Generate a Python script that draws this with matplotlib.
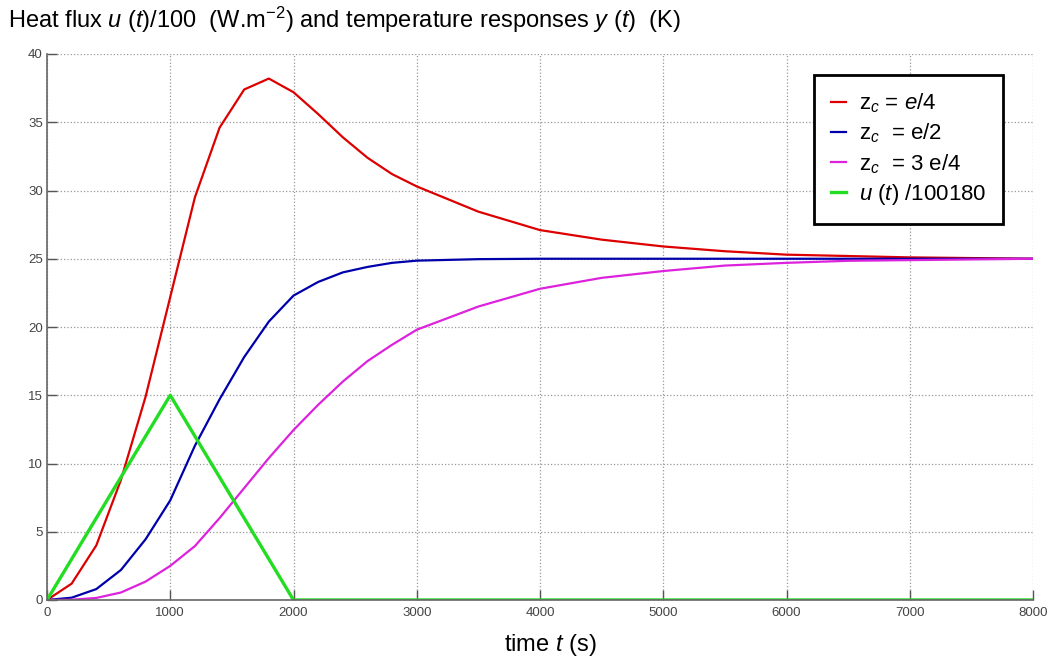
import matplotlib
matplotlib.use("Agg")
import matplotlib.pyplot as plt

plt.rcParams["font.family"] = ["Liberation Sans", "DejaVu Sans"]
plt.rcParams["mathtext.fontset"] = "custom"
plt.rcParams["mathtext.rm"] = "Liberation Sans"
plt.rcParams["mathtext.it"] = "Liberation Sans:italic"
plt.rcParams["mathtext.bf"] = "Liberation Sans:bold"

# Time samples (s)
t_fine = [0, 200, 400, 600, 800, 1000, 1200, 1400, 1600, 1800, 2000,
          2200, 2400, 2600, 2800, 3000, 3500, 4000, 4500, 5000, 5500,
          6000, 6500, 7000, 7500, 8000]

# Temperature responses y(t) (K) at three depths
y_quarter = [0, 1.2, 4.0, 8.8, 14.9, 22.2, 29.5, 34.6, 37.4, 38.2, 37.2,
             35.6, 33.9, 32.4, 31.2, 30.3, 28.45, 27.1, 26.4, 25.9, 25.55,
             25.3, 25.2, 25.1, 25.05, 25.0]
y_half = [0, 0.17, 0.8, 2.2, 4.45, 7.3, 11.3, 14.7, 17.8, 20.4, 22.3,
          23.3, 24.0, 24.4, 24.7, 24.86, 24.97, 25.0, 25.0, 25.0, 25.0,
          25.0, 25.0, 25.0, 25.0, 25.0]
y_three_quarter = [0, 0.02, 0.15, 0.55, 1.35, 2.5, 3.95, 6.0, 8.2, 10.4, 12.45,
                   14.3, 16.0, 17.5, 18.7, 19.8, 21.5, 22.8, 23.6, 24.1, 24.5,
                   24.7, 24.85, 24.9, 24.95, 25.0]

# Triangular heat flux pulse u(t), scaled
t_flux = [0, 1000, 2000, 8000]
u_scaled = [0, 15, 0, 0]

x_ticks = [0, 1000, 2000, 3000, 4000, 5000, 6000, 7000, 8000]
y_ticks = [0, 5, 10, 15, 20, 25, 30, 35, 40]

labels = [r"$\mathrm{z}_c$ = $e$/4",
          r"$\mathrm{z}_c$  = e/2",
          r"$\mathrm{z}_c$  = 3 e/4",
          r"$u$ ($t$) /100180"]

fig = plt.figure(figsize=(10.51, 6.57), dpi=100)
ax = fig.add_axes([47 / 1051, 57 / 657, 986 / 1051, 546 / 657])

ax.plot(t_fine, y_quarter, color="#dd0000", lw=1.6, label=labels[0])
ax.plot(t_fine, y_half, color="#0000aa", lw=1.6, label=labels[1])
ax.plot(t_fine, y_three_quarter, color="#dd22dd", lw=1.6, label=labels[2])
ax.plot(t_flux, u_scaled, color="#22dd22", lw=2.4, label=labels[3])

ax.set_xlim(0, 8000)
ax.set_ylim(0, 40)
ax.set_xticks(x_ticks)
ax.set_yticks(y_ticks)
ax.tick_params(direction="in", length=7, width=1, color="#555555",
               labelsize=9.5, labelcolor="#444444")
ax.tick_params(axis="x", pad=5)
ax.tick_params(axis="y", pad=3)
ax.grid(True, linestyle=":", color="#999999", lw=0.9)
for side in ("top", "right"):
    ax.spines[side].set_visible(False)
for side in ("left", "bottom"):
    ax.spines[side].set_color("#666666")
    ax.spines[side].set_linewidth(1.2)

ax.set_xlabel(r"time $t$ (s)", fontsize=17)
ax.xaxis.set_label_coords(0.5107, -0.058)

fig.text(8 / 1051, 1 - 20 / 657,
         r"Heat flux $u$ ($t$)/100  (W.m$^{-2}$) and temperature responses $y$ ($t$)  (K)",
         fontsize=17, va="center", ha="left")

leg = ax.legend(loc="upper right", bbox_to_anchor=(0.97, 0.962),
                borderaxespad=0, fontsize=16, handlelength=0.7,
                handletextpad=0.6, labelspacing=0.3, borderpad=0.75,
                fancybox=False, framealpha=1)
leg.get_frame().set_edgecolor("black")
leg.get_frame().set_linewidth(2)

fig.savefig("out.png", dpi=100)
